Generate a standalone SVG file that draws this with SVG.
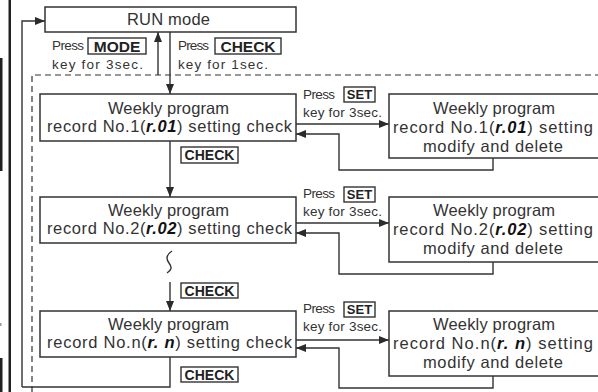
<svg xmlns="http://www.w3.org/2000/svg" width="598" height="392" viewBox="0 0 598 392">
<defs>
<marker id="ah" markerUnits="userSpaceOnUse" markerWidth="10" markerHeight="8" refX="10" refY="4" orient="auto">
<path d="M0,0 L10,4 L0,8 z" fill="#2b2b2b"/>
</marker>
</defs>
<style>
.box{fill:#fff;stroke:#333;stroke-width:1.5}
.t{font-family:"Liberation Sans",Arial,sans-serif;font-size:16.5px;fill:#333}
.s{font-family:"Liberation Sans",Arial,sans-serif;font-size:13.5px;fill:#333}
.led{font-weight:bold;font-style:italic;fill:#111}
.key{fill:#fff;stroke:#333;stroke-width:1.4}
.kt{font-family:"Liberation Sans",Arial,sans-serif;font-weight:bold;fill:#222}
.ln{fill:none;stroke:#333;stroke-width:1.4}
.ar{fill:none;stroke:#333;stroke-width:1.4;marker-end:url(#ah)}
.dash{fill:none;stroke:#333;stroke-width:1.2;stroke-dasharray:6 4}
</style>
<rect width="598" height="392" fill="#fff"/>
<g id="edge-marks">
<rect x="8.5" y="0" width="2.5" height="392" fill="#222"/>
<rect x="0" y="58" width="2.5" height="113" fill="#222"/>
<rect x="0" y="358" width="2.5" height="34" fill="#222"/>
<rect x="0" y="323" width="1.5" height="3" fill="#999"/>
</g>
<g id="frame">
<path class="dash" d="M32,392 V75 H598"/>
</g>
<g id="connectors">
<path class="ar" d="M22,387 V21 H45"/>
<path class="ln" d="M22,387 H170 V357"/>
<path class="ar" d="M158,75 V32"/>
<path class="ar" d="M170,32 V94"/>
<path class="ar" d="M170,141 V197"/>
<path class="ar" d="M170,282 V311"/>
<path class="ar" d="M296,124 H389"/>
<path class="ar" d="M493,158 V170 H339 V134 H296"/>
<path class="ar" d="M296,223 H389"/>
<path class="ar" d="M493,262 V274 H339 V233 H296"/>
<path class="ar" d="M296,340 H389"/>
<path class="ar" d="M493,376 V388 H339 V348 H296"/>
<path class="ln" d="M172,251 C166,255 166,259 169,263 C172,267 172,270 167,273" stroke-width="1.3"/>
</g>
<g id="run-mode">
<rect class="box" x="45" y="7" width="251" height="25"/>
<text class="t" x="127" y="25" textLength="83">RUN mode</text>
</g>
<g id="label-mode">
<text class="s" x="52" y="50" textLength="32">Press</text>
<rect class="key" x="88" y="38" width="58" height="16"/>
<text class="kt" x="117" y="51.5" font-size="15.5" text-anchor="middle">MODE</text>
<text class="s" x="52" y="69" textLength="91">key for 3sec.</text>
</g>
<g id="label-check-top">
<text class="s" x="178" y="50" textLength="31">Press</text>
<rect class="key" x="215" y="38" width="66" height="16"/>
<text class="kt" x="248" y="51.5" font-size="15.5" text-anchor="middle">CHECK</text>
<text class="s" x="178" y="69" textLength="90">key for 1sec.</text>
</g>
<g id="check1">
<rect class="box" x="40" y="94" width="256" height="47"/>
<text class="t" x="108" y="114" textLength="121">Weekly program</text>
<text class="t" x="47" y="132" textLength="245">record No.1(<tspan class="led">r.01</tspan>) setting check</text>
</g>
<g id="modify1">
<rect class="box" x="389" y="94" width="215" height="64"/>
<text class="t" x="433" y="114" textLength="122">Weekly program</text>
<text class="t" x="393" y="133" textLength="200">record No.1(<tspan class="led">r.01</tspan>) setting</text>
<text class="t" x="423" y="152" textLength="140">modify and delete</text>
</g>
<g id="set1">
<text class="s" x="303" y="99" textLength="32">Press</text>
<rect class="key" x="344" y="87" width="31" height="15"/>
<text class="kt" x="359.5" y="99" font-size="13" text-anchor="middle">SET</text>
<text class="s" x="303" y="117" textLength="79">key for 3sec.</text>
</g>
<g id="label-check1">
<rect class="key" x="181" y="147" width="57" height="16"/>
<text class="kt" x="209.5" y="160" font-size="14" text-anchor="middle">CHECK</text>
</g>
<g id="check2">
<rect class="box" x="40" y="197" width="256" height="46"/>
<text class="t" x="108" y="216" textLength="121">Weekly program</text>
<text class="t" x="47" y="234" textLength="245">record No.2(<tspan class="led">r.02</tspan>) setting check</text>
</g>
<g id="modify2">
<rect class="box" x="389" y="197" width="215" height="65"/>
<text class="t" x="433" y="216" textLength="122">Weekly program</text>
<text class="t" x="393" y="235" textLength="200">record No.2(<tspan class="led">r.02</tspan>) setting</text>
<text class="t" x="423" y="254" textLength="140">modify and delete</text>
</g>
<g id="set2">
<text class="s" x="303" y="198" textLength="32">Press</text>
<rect class="key" x="344" y="187" width="31" height="15"/>
<text class="kt" x="359.5" y="199" font-size="13" text-anchor="middle">SET</text>
<text class="s" x="303" y="216" textLength="79">key for 3sec.</text>
</g>
<g id="label-check2">
<rect class="key" x="181" y="283" width="57" height="15"/>
<text class="kt" x="209.5" y="295.5" font-size="14" text-anchor="middle">CHECK</text>
</g>
<g id="checkn">
<rect class="box" x="40" y="311" width="256" height="46"/>
<text class="t" x="108" y="330" textLength="121">Weekly program</text>
<text class="t" x="47" y="348" textLength="245">record No.n(<tspan class="led">r. n</tspan>) setting check</text>
</g>
<g id="modifyn">
<rect class="box" x="389" y="311" width="215" height="65"/>
<text class="t" x="433" y="330" textLength="122">Weekly program</text>
<text class="t" x="393" y="349" textLength="200">record No.n(<tspan class="led">r. n</tspan>) setting</text>
<text class="t" x="423" y="368" textLength="140">modify and delete</text>
</g>
<g id="setn">
<text class="s" x="303" y="313" textLength="32">Press</text>
<rect class="key" x="344" y="302" width="31" height="15"/>
<text class="kt" x="359.5" y="314" font-size="13" text-anchor="middle">SET</text>
<text class="s" x="303" y="331" textLength="79">key for 3sec.</text>
</g>
<g id="label-checkn">
<rect class="key" x="181" y="367" width="57" height="15"/>
<text class="kt" x="209.5" y="379.5" font-size="14" text-anchor="middle">CHECK</text>
</g>
</svg>
